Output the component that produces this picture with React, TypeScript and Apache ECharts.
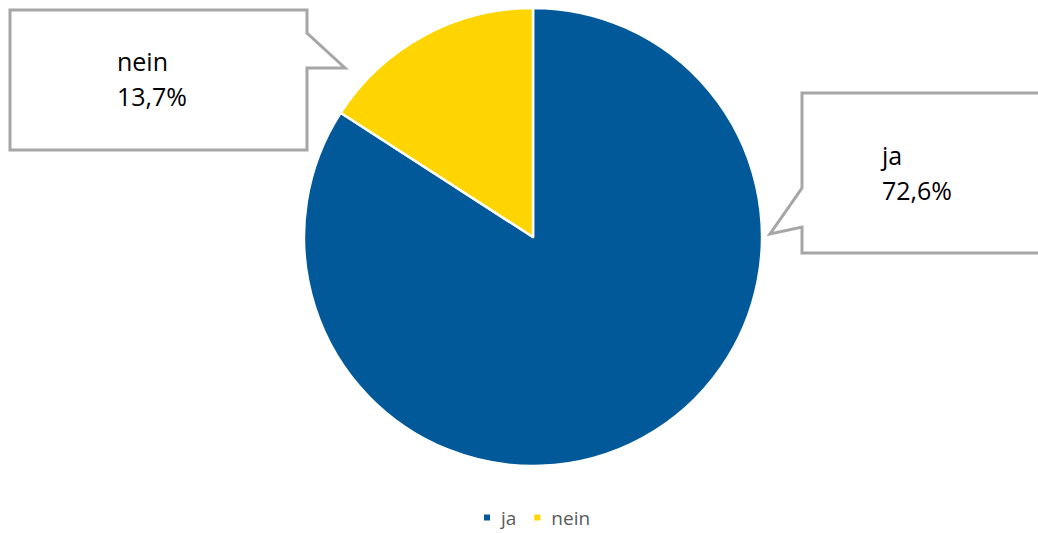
import React, { useEffect, useRef } from "react";
import * as echarts from "echarts";

const categories = ["ja", "nein"];
const values = [72.6, 13.7];
const colors = ["#01599A", "#FED500"];

const labelSpots: Record<string, { x: number; y: number }> = {
  ja: { x: 882, y: 172 },
  nein: { x: 117, y: 78 },
};

export default function App() {
  const ref = useRef<HTMLDivElement>(null);
  useEffect(() => {
    if (!ref.current) return;
    const chart = echarts.init(ref.current, undefined, { renderer: "svg" });
    const fmt = (v: number) => v.toFixed(1).replace(".", ",") + "%";
    chart.setOption({
      animation: false,
      backgroundColor: "#ffffff",
      color: colors,
      legend: {
        bottom: 1,
        left: 477,
        icon: "rect",
        itemWidth: 8,
        itemHeight: 8,
        itemGap: 16,
        textStyle: {
          color: "#595959",
          fontSize: 19,
          fontFamily: "Open Sans",
          padding: [0, 0, 0, 5],
        },
        data: categories,
      },
      graphic: [
        {
          type: "polygon",
          z: 0,
          shape: {
            points: [
              [10, 10], [307, 10], [307, 33], [345, 68], [307, 68], [307, 150], [10, 150],
            ],
          },
          style: { fill: "#ffffff", stroke: "#A6A6A6", lineWidth: 3 },
        },
        {
          type: "polygon",
          z: 0,
          shape: {
            points: [
              [802, 93], [1045, 93], [1045, 253], [802, 253], [802, 227], [770, 234], [802, 188],
            ],
          },
          style: { fill: "#ffffff", stroke: "#A6A6A6", lineWidth: 3 },
        },
      ],
      series: [
        {
          type: "pie",
          center: [533, 237],
          radius: [0, 229],
          startAngle: 90,
          clockwise: true,
          itemStyle: { borderColor: "#ffffff", borderWidth: 2.5 },
          label: {
            show: true,
            position: "outside",
            formatter: (p: any) => `${p.name}\n${fmt(p.value)}`,
            color: "#000000",
            fontSize: 25,
            lineHeight: 35,
            fontFamily: "Open Sans",
          },
          labelLine: { show: false },
          labelLayout: (params: any) => {
            const name = categories[params.dataIndex];
            const s = labelSpots[name];
            return { x: s.x, y: s.y, align: "left", verticalAlign: "middle" };
          },
          emphasis: { disabled: true },
          data: categories.map((c, i) => ({ name: c, value: values[i] })),
        },
      ],
    });
    return () => chart.dispose();
  }, []);
  return (
    <div
      ref={ref}
      style={{ position: "fixed", left: 0, top: 0, width: 1038, height: 533 }}
    />
  );
}
